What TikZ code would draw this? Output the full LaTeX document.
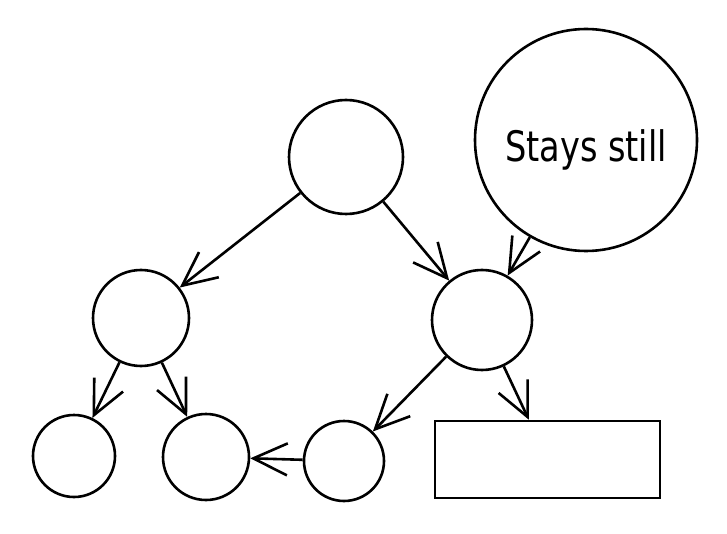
\documentclass[tikz,border=0pt]{standalone}
\usepackage{fontspec}
\newfontfamily\stillfont[FakeStretch=0.8]{DejaVu Sans}
\usetikzlibrary{arrows.meta}

\begin{document}
\begin{tikzpicture}[x=1pt,y=-1pt,
    treenode/.style={draw,circle,line width=2.6pt,inner sep=0pt},
    link/.style={line width=2.6pt,-{Straight Barb[length=34pt,width=32pt,line width=2.6pt]}}]
  \useasboundingbox (0,0) rectangle (727,534);
  % Tree that moves
  \node[treenode,minimum size=114pt] (root) at (346,157) {};
  \node[treenode,minimum size=96pt] (left) at (141,318) {};
  \node[treenode,minimum size=100pt] (right) at (482,320) {};
  \node[treenode,minimum size=82pt] (leafa) at (74,456) {};
  \node[treenode,minimum size=86pt] (leafb) at (206,457) {};
  \node[treenode,minimum size=80pt] (leafc) at (344,461) {};
  \node[draw,line width=2.6pt,minimum width=225pt,minimum height=77pt,inner sep=0pt] (leafbox) at (547.5,459.5) {};
  % Node that stays still
  \node[treenode,minimum size=222pt] (still) at (586,140) {};
  \node[font=\stillfont\fontsize{42}{50}\selectfont,anchor=base] (stilltext) at (586,162) {Stays still};
  % Arrows
  \draw[link] (root) -- (left);
  \draw[link] (root) -- (right);
  \draw[link] (still) -- (right);
  \draw[link] (left) -- (leafa);
  \draw[link] (left) -- (leafb);
  \draw[link] (right) -- (leafc);
  \draw[link] (right) -- (leafbox);
  \draw[link] (leafc) -- (leafb);
\end{tikzpicture}
\end{document}
